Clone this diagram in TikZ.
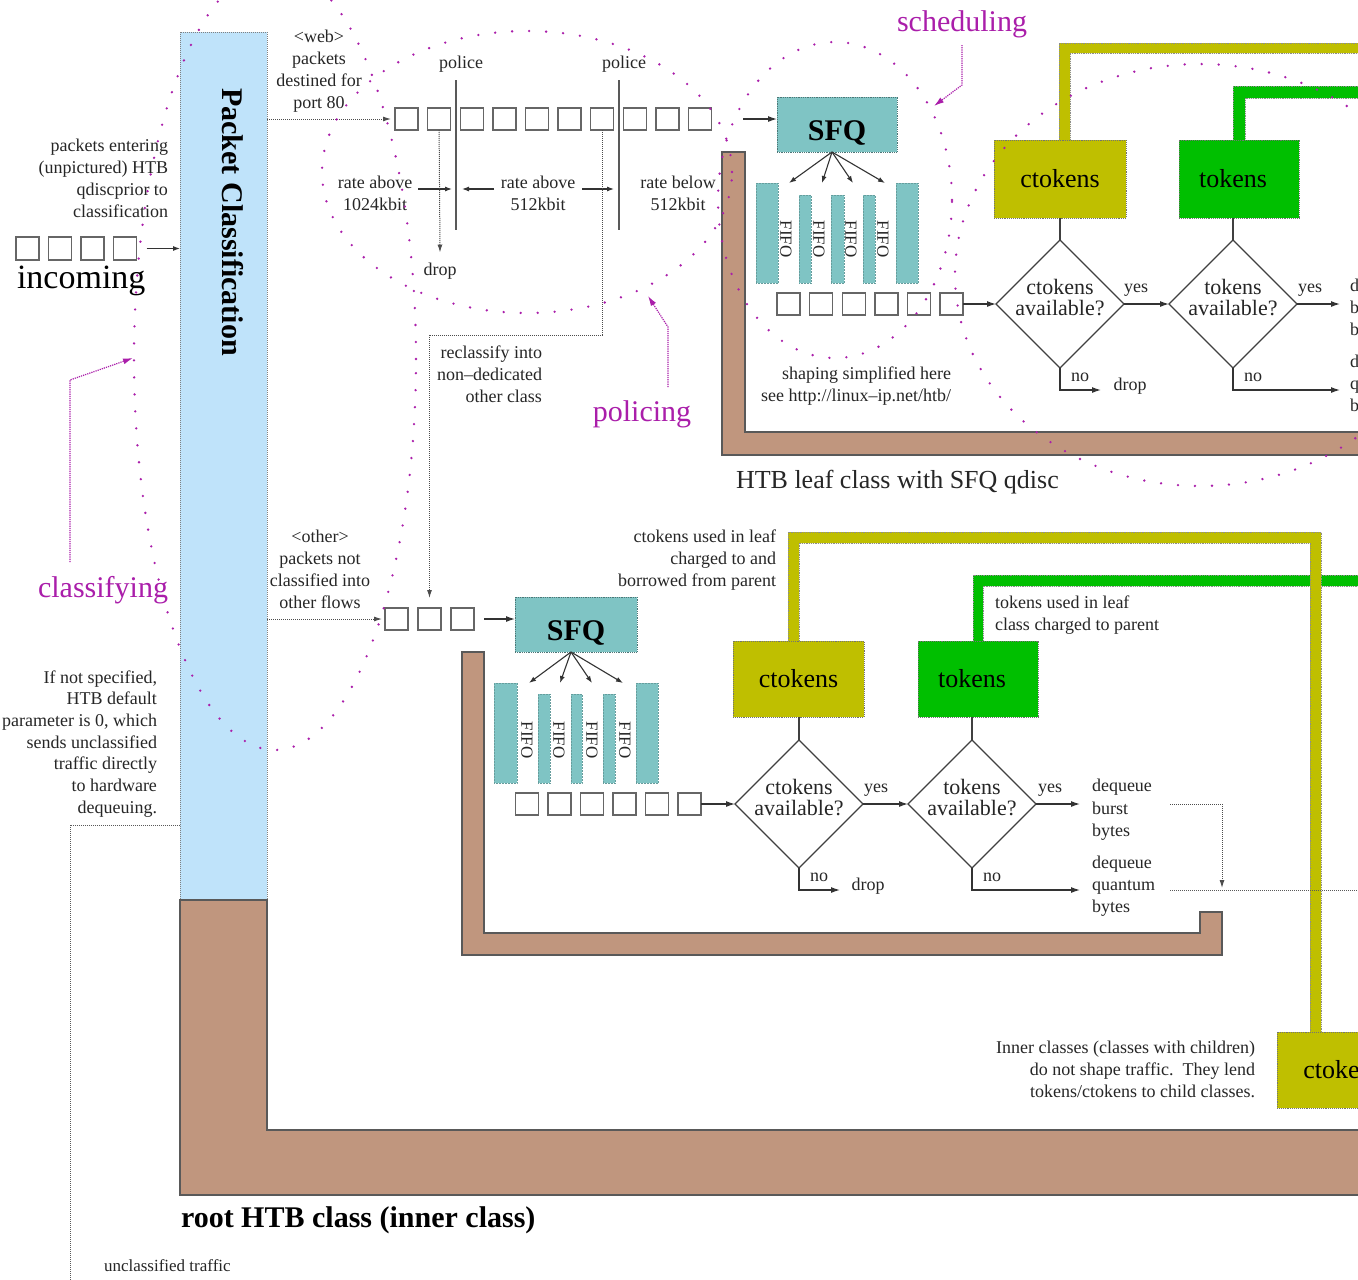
\documentclass[tikz,border=0pt]{standalone}
\usepackage{fontspec}
\setmainfont{Liberation Serif}
\usetikzlibrary{arrows.meta,shapes.geometric,calc}
\definecolor{pcblue}{RGB}{191,227,250}
\definecolor{htbbrown}{RGB}{192,150,126}
\definecolor{sfqteal}{RGB}{127,196,196}
\definecolor{tokolive}{RGB}{191,191,0}
\definecolor{tokgreen}{RGB}{0,191,0}
\definecolor{annpurple}{RGB}{170,30,170}
\begin{document}
\begin{tikzpicture}[x=1pt,y=-1pt,
 every node/.style={inner sep=0pt,outer sep=0pt,text=black!85},
 small/.style={font=\fontsize{18}{22}\selectfont},
 smalltight/.style={font=\fontsize{18}{21.7}\selectfont},
 pkt/.style={draw=black!60,line width=1.4pt,minimum width=23pt,minimum height=23pt,anchor=north west},
 pcbox/.style={fill=pcblue,draw=black!50,densely dotted,line width=1pt},
 sfqbox/.style={fill=sfqteal,draw=sfqteal!60!black,densely dotted,line width=0.8pt,font=\bfseries\fontsize{30}{30}\selectfont,text=black,anchor=north west,text height=31pt,text depth=0pt},
 fifobar/.style={fill=sfqteal,draw=sfqteal!80!black,densely dotted,line width=0.5pt,anchor=north west},
 fifotext/.style={rotate=-90,font=\fontsize{17}{17}\selectfont},
 tokc/.style={fill=tokolive,draw=black!55,densely dotted,line width=0.9pt,font=\fontsize{26}{26}\selectfont,text=black,anchor=north west},
 tokt/.style={fill=tokgreen,draw=black!55,densely dotted,line width=0.9pt,anchor=north west},
 toktext/.style={font=\fontsize{26}{26}\selectfont,text=black},
 oliveband/.style={fill=tokolive,draw=black!45,densely dotted,line width=0.8pt},
 greenband/.style={fill=tokgreen,draw=black!45,densely dotted,line width=0.8pt},
 brownL/.style={fill=htbbrown,draw=black!65,line width=1.3pt},
 diam/.style={diamond,draw=black!75,line width=1.3pt,minimum width=128pt,minimum height=128pt,aspect=1},
 dtext/.style={align=center,font=\fontsize{22}{21}\selectfont},
 conn/.style={line width=1.3pt,black!75},
 arr/.style={-{Latex[length=9pt,width=6pt]},line width=1.2pt,black!80},
 arrs/.style={-{Latex[length=7pt,width=5pt]},line width=1.1pt,black!80},
 darr/.style={-{Latex[length=8pt,width=5pt]},densely dotted,line width=1pt,black!70},
 dline/.style={densely dotted,line width=1pt,black!65},
 polline/.style={line width=1.2pt,black!65},
 purpdots/.style={draw=annpurple,line width=2.6pt,line cap=round,dash pattern=on 0pt off 17pt},
 purparr/.style={draw=annpurple,line width=1.2pt,densely dotted,-{Latex[length=10pt,width=6pt]}},
 purptext/.style={text=annpurple,font=\fontsize{30}{30}\selectfont},
]
\useasboundingbox (0,0) rectangle (1358,1280);
\fill[white] (0,0) rectangle (1358,1280);
\begin{scope}
\clip (0,0) rectangle (1358,1280);

% ---------- classification column and root class ----------
\node[pcbox,minimum width=87pt,minimum height=868pt,anchor=north west] (pc) at (180,32) {};
\path[brownL] (180,900) -- (180,1195) -- (1375,1195) -- (1375,1130) -- (267,1130) -- (267,900) -- cycle;
\node[rotate=-90,font=\bfseries\fontsize{30}{30}\selectfont,text=black] (pctext) at (233,222) {Packet Classification};
\node[anchor=base west,font=\bfseries\fontsize{30}{30}\selectfont,text=black] (roottxt) at (181,1227) {root HTB class (inner class)};

% ---------- leaf classes (brown frames) ----------
\path[brownL] (722,152) -- (722,455) -- (1375,455) -- (1375,432) -- (745,432) -- (745,152) -- cycle;
\path[brownL] (462,652) -- (462,955) -- (1222,955) -- (1222,912) -- (1200,912) -- (1200,933) -- (484,933) -- (484,652) -- cycle;
\node[anchor=base west,font=\fontsize{26}{26}\selectfont] (leaftxt) at (736,488) {HTB leaf class with SFQ qdisc};

% ---------- token bands ----------
\path[greenband] (973,641) -- (973,575) -- (1375,575) -- (1375,586) -- (983,586) -- (983,641) -- cycle;
\path[oliveband] (788,641) -- (788,532) -- (1321,532) -- (1321,1032) -- (1310,1032) -- (1310,543) -- (799,543) -- (799,641) -- cycle;
\path[oliveband] (1059,140) -- (1059,43) -- (1375,43) -- (1375,53) -- (1070,53) -- (1070,140) -- cycle;
\path[greenband] (1233,140) -- (1233,86) -- (1375,86) -- (1375,98) -- (1245,98) -- (1245,140) -- cycle;

% ---------- incoming ----------
\foreach \i in {0,...,3} \node[pkt] (in\i) at ({16+32.5*\i},237) {};
\node[anchor=base west,font=\fontsize{34}{34}\selectfont,text=black] (incoming) at (17,288) {incoming};
\draw[arrs] ([xshift=10pt]in3.east) -- (in3.east -| pc.west);
\node[smalltight,align=right,anchor=north east] (entering) at (168,139.5) {packets entering\\(unpictured) HTB\\qdiscprior to\\classification};
\node[smalltight,align=right,anchor=north east] (default) at (157,670.5) {If not specified,\\HTB default\\parameter is 0, which\\sends unclassified\\traffic directly\\to hardware\\dequeuing.};
\coordinate (unclturn) at (70,825);
\coordinate (uncldown) at (70,1290);
\draw[dline] (pc.west |- unclturn) -- (unclturn) -- (uncldown);
\node[anchor=base west,font=\fontsize{17}{17}\selectfont] (uncltxt) at (104,1271) {unclassified traffic};

% ---------- web flow & policing ----------
\node[small,align=center,anchor=north] (webtxt) at (319,29.7) {<web>\\packets\\destined for\\port 80};
\foreach \i in {0,...,9} \node[pkt,minimum height=22pt] (w\i) at ({395+32.6*\i},108) {};
\draw[darr] (pc.east |- w0.west) -- ([xshift=-4pt]w0.west);
\coordinate (p1top) at (456,80); \coordinate (p1bot) at (456,230);
\coordinate (p2top) at (619,80); \coordinate (p2bot) at (619,230);
\draw[polline] (p1top) -- (p1bot);
\draw[polline] (p2top) -- (p2bot);
\node[small,anchor=base] (pol1) at (461,68) {police};
\node[small,anchor=base] (pol2) at (624,68) {police};
\node[small,align=center,anchor=north] (r1) at (375,176.5) {rate above\\1024kbit};
\node[small,align=center,anchor=north] (r2) at (538,176.5) {rate above\\512kbit};
\node[small,align=center,anchor=north] (r3) at (678,176.5) {rate below\\512kbit};
\coordinate (p1) at (456,189); \coordinate (p2) at (619,189);
\draw[arrs] (418,189) -- ([xshift=-4pt]p1);
\draw[arrs] (494,189) -- ([xshift=6pt]p1);
\draw[arrs] (582,189) -- ([xshift=-5pt]p2);
\node[small,anchor=base] (drop1) at (440,275) {drop};
\draw[darr] (w1.south) -- ([yshift=10pt]drop1.north);
\node[small,align=right,anchor=north east] (recl) at (542,345.5) {reclassify into\\non–dedicated\\other class};

% ---------- top leaf: SFQ ----------
\node[sfqbox,minimum width=120pt,minimum height=55pt] (sfq1) at (777,97) {SFQ};
\draw[arr] ([xshift=32pt]w9.east) -- (sfq1.west |- w9.east);
\node[fifobar,minimum width=22pt,minimum height=100pt] (b11) at (756,183) {};
\node[fifobar,minimum width=12pt,minimum height=88pt] (b12) at (799,195) {};
\node[fifobar,minimum width=13pt,minimum height=88pt] (b13) at (831,195) {};
\node[fifobar,minimum width=12pt,minimum height=88pt] (b14) at (863,195) {};
\node[fifobar,minimum width=22pt,minimum height=100pt] (b15) at (896,183) {};
\foreach \x in {786,819,851,883} \node[fifotext] at (\x,239) {FIFO};
\coordinate (a11) at (789,183); \coordinate (a12) at (822,183);
\coordinate (a13) at (853,183); \coordinate (a14) at (885,183);
\foreach \t in {a11,a12,a13,a14} \draw[arrs] ([xshift=-5pt]sfq1.south) -- (\t);
\foreach \i in {0,...,5} \node[pkt,minimum height=22pt] (s1\i) at ({777+32.6*\i},293) {};
\node[small,align=right,anchor=north east] (shaping) at (951,366.5) {shaping simplified here\\see http://linux–ip.net/htb/};

% ---------- top leaf: tokens ----------
\node[tokc,minimum width=132pt,minimum height=78pt] (c1) at (994,140) {ctokens};
\node[tokt,minimum width=120pt,minimum height=78pt] (t1) at (1179,140) {};
\node[diam] (d1c) at (1060,304) {};
\node[diam] (d1t) at (1233,304) {};
\node[toktext] (t1txt) at (d1t.center |- t1.center) {tokens};
\node[dtext] at ([yshift=6pt]d1c.center) {ctokens\\available?};
\node[dtext] at ([yshift=6pt]d1t.center) {tokens\\available?};
\draw[conn] (c1.south) -- (d1c.north);
\draw[conn] (d1t.north |- t1.south) -- (d1t.north);
\draw[arr] (s15.east) -- (d1c.west);
\draw[arr] (d1c.east) -- (d1t.west);
\coordinate (y1end) at (1340,304);
\draw[arr] (d1t.east) -- (y1end);
\node[small,anchor=base] at (1136,292) {yes};
\node[small,anchor=base] at (1310,292) {yes};
\coordinate (n1c) at (1101,390); \coordinate (n1t) at (1340,390);
\draw[arr] (d1c.south) |- (n1c);
\draw[arr] (d1t.south) |- (n1t);
\node[small,anchor=base] at (1080,381) {no};
\node[small,anchor=base] at (1253,381) {no};
\node[small,anchor=base] (drop2) at (1130,390) {drop};
\node[small,align=left,anchor=north west] at (1350,279.5) {dequeue\\burst\\bytes};
\node[small,align=left,anchor=north west] at (1350,355.5) {dequeue\\quantum\\bytes};

% ---------- other flow ----------
\node[small,align=center,anchor=north] (othtxt) at (320,530.5) {<other>\\packets not\\classified into\\other flows};
\foreach \i in {0,1,2} \node[pkt,minimum height=22pt] (o\i) at ({385+33*\i},608) {};
\draw[darr] (pc.east |- o0.west) -- ([xshift=-3pt]o0.west);
\draw[darr,shorten >=10pt] (w6.south) -- ++(0,205) -| (o1.north);
\node[sfqbox,minimum width=122pt,minimum height=55pt] (sfq2) at (515,597) {SFQ};
\draw[arr] ([xshift=10pt]o2.east) -- (sfq2.west |- o2.east);
\node[fifobar,minimum width=23pt,minimum height=100pt] (b21) at (494,683) {};
\node[fifobar,minimum width=12pt,minimum height=89pt] (b22) at (538,694) {};
\node[fifobar,minimum width=11pt,minimum height=89pt] (b23) at (571,694) {};
\node[fifobar,minimum width=12pt,minimum height=89pt] (b24) at (603,694) {};
\node[fifobar,minimum width=22pt,minimum height=100pt] (b25) at (636,683) {};
\foreach \x in {527,559,592,625} \node[fifotext] at (\x,740) {FIFO};
\coordinate (a21) at (529,683); \coordinate (a22) at (560,683);
\coordinate (a23) at (592,683); \coordinate (a24) at (623,683);
\foreach \t in {a21,a22,a23,a24} \draw[arrs] ([xshift=-5pt]sfq2.south) -- (\t);
\foreach \i in {0,...,5} \node[pkt,minimum height=22pt] (s2\i) at ({515.5+32.5*\i},793) {};

\node[tokc,minimum width=131pt,minimum height=76pt] (c2) at (733,641) {ctokens};
\node[tokt,minimum width=120pt,minimum height=76pt] (t2) at (918,641) {};
\node[tokc,minimum width=132pt,minimum height=76pt] (c3) at (1277,1032) {ctokens};
\node[diam] (d2c) at (799,804) {};
\node[diam] (d2t) at (972,804) {};
\node[toktext] (t2txt) at (d2t.center |- t2.center) {tokens};
\node[dtext] at ([yshift=6pt]d2c.center) {ctokens\\available?};
\node[dtext] at ([yshift=6pt]d2t.center) {tokens\\available?};
\draw[conn] (d2c.north |- c2.south) -- (d2c.north);
\draw[conn] (d2t.north |- t2.south) -- (d2t.north);
\draw[arr] (s25.east) -- (d2c.west);
\draw[arr] (d2c.east) -- (d2t.west);
\coordinate (y2end) at (1080,804);
\draw[arr] (d2t.east) -- (y2end);
\node[small,anchor=base] at (876,792) {yes};
\node[small,anchor=base] at (1050,792) {yes};
\coordinate (n2c) at (840,890); \coordinate (n2t) at (1080,890);
\draw[arr] (d2c.south) |- (n2c);
\draw[arr] (d2t.south) |- (n2t);
\node[small,anchor=base] at (819,881) {no};
\node[small,anchor=base] at (992,881) {no};
\node[small,anchor=base] (drop3) at (868,890) {drop};
\node[small,align=left,anchor=north west] (burst) at (1092,779.5) {dequeue\\burst\\bytes};
\node[small,align=left,anchor=north west] (quant) at (1092,855.5) {dequeue\\quantum\\bytes};
\coordinate (bu) at (1170,804); \coordinate (bq) at (1222,888);
\coordinate (qs) at (1170,890); \coordinate (qe) at (1375,890);
\draw[darr] (bu) -| (bq);
\draw[dline] (qs) -- (qe);
\node[small,align=right,anchor=north east] (cused) at (776,529.5) {ctokens used in leaf\\charged to and\\borrowed from parent};
\node[small,align=left,anchor=north west] (tused) at (995,595.5) {tokens used in leaf\\class charged to parent};
\node[small,align=right,anchor=north east] (inner) at (1255,1040.5) {Inner classes (classes with children)\\do not shape traffic.\enspace They lend\\tokens/ctokens to child classes.};

% ---------- purple annotations ----------
\draw[purpdots] (275,359) ellipse [x radius=141pt,y radius=391pt];
\draw[purpdots] (527,172) ellipse [x radius=205pt,y radius=141pt];
\draw[purpdots] (835,200) ellipse [x radius=117pt,y radius=158pt];
\draw[purpdots] (1200,275) ellipse [x radius=245pt,y radius=211pt];
\coordinate (clsA) at (70,562); \coordinate (clsB) at (70,380); \coordinate (clsT) at (133,358);
\draw[purparr] (clsA) -- (clsB) -- (clsT);
\coordinate (plA) at (668,387); \coordinate (plB) at (668,327); \coordinate (plT) at (648,296);
\draw[purparr] (plA) -- (plB) -- (plT);
\coordinate (scA) at (962,45); \coordinate (scB) at (962,85); \coordinate (scT) at (934,106);
\draw[purparr] (scA) -- (scB) -- (scT);
\node[purptext,anchor=base east] (clsf) at (168,597) {classifying};
\node[purptext,anchor=base] (plc) at (642,421) {policing};
\node[purptext,anchor=base] (sch) at (962,31) {scheduling};
\end{scope}
\end{tikzpicture}
\end{document}
